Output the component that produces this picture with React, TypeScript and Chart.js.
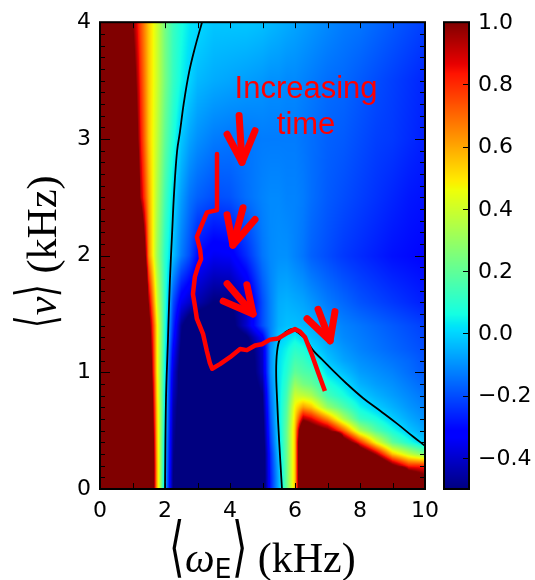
import { useEffect, useRef } from 'react';
import { Chart, registerables } from 'chart.js';

Chart.register(...registerables);

// ---------- data ----------
// grid of the colour map (x: <omega_E> in kHz, y: <nu> in kHz)
const gridX = [0, 0.5, 1.0, 1.25, 1.5, 1.75, 2.0, 2.25, 2.5, 2.75, 3.0, 3.5, 4.0, 4.5, 5.0, 5.25, 5.5, 5.75, 6.0, 6.25, 6.5, 7.0, 7.5, 8.0, 8.5, 9.0, 9.5, 10];
const gridY = [0, 0.1, 0.2, 0.3, 0.4, 0.5, 0.6, 0.7, 0.8, 0.9, 1.0, 1.1, 1.2, 1.3, 1.4, 1.6, 2.0, 2.5, 3.0, 3.5, 4.0];
// one row per gridY value, one entry per gridX value
const fieldRows = [
  [3, 3, 3, 3, 1.7, 0.6, -0.05, -0.5, -0.58, -0.6, -0.6, -0.6, -0.6, -0.6, -0.6, -0.27, -0.05, 0.22, 0.55, 1.6, 3, 3, 3, 3, 3, 3, 3, 3],
  [3, 3, 3, 3, 1.7, 0.6, -0.05, -0.5, -0.58, -0.6, -0.6, -0.6, -0.6, -0.6, -0.6, -0.27, -0.05, 0.22, 0.55, 1.6, 3, 3, 3, 3, 3, 3, 1.3, 1.05],
  [3, 3, 3, 3, 1.7, 0.6, -0.04, -0.49, -0.58, -0.6, -0.6, -0.6, -0.6, -0.6, -0.6, -0.26, -0.04, 0.22, 0.55, 1.6, 3, 3, 3, 3, 1.45, 1.05, 0.8, 0.8],
  [3, 3, 3, 3, 1.65, 0.59, -0.03, -0.48, -0.58, -0.6, -0.6, -0.6, -0.6, -0.6, -0.6, -0.25, -0.02, 0.22, 0.55, 1.6, 3, 3, 3, 1.3, 0.95, 0.55, 0.38, 0.25],
  [3, 3, 3, 3, 1.6, 0.58, -0.02, -0.47, -0.57, -0.6, -0.6, -0.6, -0.6, -0.6, -0.58, -0.22, 0.0, 0.22, 0.55, 1.6, 3, 3, 1.19, 0.8, 0.45, 0.2, 0.08, -0.03],
  [3, 3, 3, 3, 1.55, 0.57, 0.0, -0.46, -0.57, -0.6, -0.6, -0.6, -0.6, -0.6, -0.56, -0.2, 0.01, 0.22, 0.55, 1.4, 1.18, 1.04, 0.72, 0.35, 0.18, 0.07, -0.02, -0.07],
  [3, 3, 3, 3, 1.5, 0.56, 0.01, -0.45, -0.56, -0.6, -0.6, -0.6, -0.6, -0.6, -0.54, -0.18, 0.02, 0.2, 0.52, 0.95, 0.88, 0.65, 0.35, 0.13, 0.07, -0.01, -0.06, -0.1],
  [3, 3, 3, 3, 1.45, 0.55, 0.02, -0.44, -0.56, -0.6, -0.6, -0.6, -0.6, -0.6, -0.52, -0.16, 0.02, 0.18, 0.48, 0.62, 0.56, 0.3, 0.17, 0.05, -0.01, -0.05, -0.09, -0.12],
  [3, 3, 3, 3, 1.4, 0.53, 0.02, -0.42, -0.55, -0.6, -0.6, -0.6, -0.6, -0.6, -0.5, -0.14, 0.02, 0.15, 0.4, 0.38, 0.34, 0.15, 0.07, -0.01, -0.05, -0.08, -0.11, -0.14],
  [3, 3, 3, 3, 1.35, 0.52, 0.03, -0.4, -0.55, -0.6, -0.6, -0.6, -0.6, -0.6, -0.46, -0.12, 0.02, 0.12, 0.3, 0.24, 0.21, 0.08, 0.02, -0.05, -0.08, -0.1, -0.13, -0.16],
  [3, 3, 3, 3, 1.3, 0.5, 0.04, -0.38, -0.56, -0.6, -0.6, -0.6, -0.6, -0.6, -0.42, -0.1, 0.02, 0.09, 0.2, 0.17, 0.15, 0.02, -0.03, -0.08, -0.1, -0.12, -0.15, -0.18],
  [3, 3, 3, 3, 1.25, 0.5, 0.05, -0.35, -0.54, -0.6, -0.6, -0.6, -0.6, -0.6, -0.41, -0.1, 0.02, 0.07, 0.15, 0.13, 0.08, -0.02, -0.07, -0.1, -0.12, -0.14, -0.16, -0.19],
  [3, 3, 3, 3, 1.2, 0.5, 0.06, -0.32, -0.52, -0.6, -0.6, -0.6, -0.6, -0.58, -0.4, -0.1, 0.01, 0.05, 0.1, 0.08, 0.01, -0.05, -0.09, -0.12, -0.14, -0.16, -0.18, -0.2],
  [3, 3, 3, 3, 1.15, 0.5, 0.07, -0.28, -0.5, -0.59, -0.6, -0.6, -0.6, -0.52, -0.33, -0.12, -0.02, 0.01, 0.04, 0.0, -0.03, -0.07, -0.11, -0.13, -0.15, -0.17, -0.19, -0.21],
  [3, 3, 3, 3, 1.1, 0.5, 0.08, -0.25, -0.48, -0.58, -0.6, -0.6, -0.55, -0.4, -0.2, -0.12, -0.05, -0.03, -0.03, -0.04, -0.05, -0.09, -0.12, -0.14, -0.16, -0.18, -0.2, -0.22],
  [3, 3, 3, 2.0, 0.95, 0.42, 0.1, -0.2, -0.35, -0.4, -0.44, -0.5, -0.5, -0.42, -0.2, -0.12, -0.06, -0.05, -0.06, -0.07, -0.09, -0.13, -0.16, -0.19, -0.21, -0.23, -0.25, -0.27],
  [3, 3, 3, 1.5, 0.65, 0.32, 0.1, -0.03, -0.13, -0.2, -0.3, -0.35, -0.34, -0.25, -0.14, -0.11, -0.1, -0.1, -0.12, -0.14, -0.17, -0.2, -0.23, -0.25, -0.27, -0.29, -0.3, -0.31],
  [3, 3, 1.6, 0.95, 0.6, 0.35, 0.15, 0.01, -0.08, -0.14, -0.17, -0.2, -0.19, -0.15, -0.12, -0.11, -0.11, -0.12, -0.12, -0.13, -0.15, -0.18, -0.2, -0.22, -0.24, -0.26, -0.28, -0.29],
  [3, 3, 1.3, 0.85, 0.55, 0.38, 0.2, 0.08, -0.02, -0.07, -0.1, -0.13, -0.14, -0.14, -0.13, -0.13, -0.13, -0.13, -0.13, -0.14, -0.15, -0.17, -0.18, -0.2, -0.22, -0.23, -0.25, -0.27],
  [3, 3, 1.15, 0.8, 0.55, 0.4, 0.24, 0.12, 0.05, 0.0, -0.04, -0.06, -0.07, -0.08, -0.09, -0.1, -0.1, -0.11, -0.11, -0.12, -0.13, -0.15, -0.16, -0.18, -0.2, -0.22, -0.24, -0.26],
  [3, 3, 1.0, 0.75, 0.55, 0.4, 0.24, 0.13, 0.07, 0.03, 0.01, -0.02, -0.02, -0.02, -0.03, -0.04, -0.05, -0.06, -0.07, -0.08, -0.09, -0.11, -0.13, -0.14, -0.16, -0.18, -0.2, -0.22],
];

// zero contours (black lines)
const contourLeft = [
  [3.14, 4.0], [2.92, 3.78], [2.74, 3.57], [2.58, 3.31], [2.46, 3.06], [2.37, 2.89],
  [2.28, 2.54], [2.22, 2.2], [2.15, 1.78], [2.09, 1.27], [2.03, 0.76], [2.0, 0.0],
];
const contourRight = [
  [5.6, 0.0], [5.51, 0.42], [5.45, 0.76], [5.42, 1.01], [5.45, 1.18], [5.54, 1.29],
  [5.69, 1.34], [5.91, 1.37], [6.09, 1.34], [6.31, 1.29], [6.55, 1.19], [6.83, 1.11],
  [7.08, 1.04], [7.6, 0.9], [8.09, 0.78], [8.62, 0.67], [9.14, 0.56], [9.63, 0.45], [10.0, 0.37],
];

// red trajectory
const trajectory = [
  [3.6, 2.87], [3.6, 2.39], [3.29, 2.37], [3.14, 2.27], [2.98, 2.16], [3.08, 2.05],
  [3.11, 1.97], [3.02, 1.91], [2.92, 1.82], [2.86, 1.67], [2.92, 1.57], [2.98, 1.46],
  [3.17, 1.33], [3.29, 1.18], [3.38, 1.08], [3.45, 1.03], [3.69, 1.07], [4.0, 1.13],
  [4.31, 1.2], [4.52, 1.19], [4.77, 1.23], [4.98, 1.24], [5.23, 1.28], [5.48, 1.29],
  [5.6, 1.31], [5.78, 1.34], [6.0, 1.37], [6.15, 1.35], [6.31, 1.3], [6.52, 1.15],
  [6.71, 1.0], [6.92, 0.84],
];

// red arrows: tail, tip and the two ends of the head
const arrowTails = [[4.28, 3.2], [4.4, 2.41], [3.91, 1.76], [6.71, 1.54]];
const arrowTips = [[4.37, 2.8], [4.09, 2.09], [4.71, 1.5], [7.08, 1.27]];
const arrowWingsA = [[3.91, 3.04], [3.91, 2.35], [3.79, 1.61], [6.37, 1.46]];
const arrowWingsB = [[4.77, 3.07], [4.77, 2.31], [4.52, 1.75], [7.23, 1.52]];

const annotationText = ['Increasing', 'time'];
const annotationAnchor = [6.34, 3.35, 3.04]; // x, baseline y of line 1, line 2

const xTickLabels = [0, 2, 4, 6, 8, 10];
const yTickLabels = [0, 1, 2, 3, 4];
const colorbarTicks = [-0.4, -0.2, 0.0, 0.2, 0.4, 0.6, 0.8, 1.0];
const colorRange = [-0.5, 1.0];

// ---------- colour map (matplotlib jet) ----------
const JET_R = [[0, 0], [0.35, 0], [0.66, 1], [0.89, 1], [1, 0.5]];
const JET_G = [[0, 0], [0.125, 0], [0.375, 1], [0.64, 1], [0.91, 0], [1, 0]];
const JET_B = [[0, 0.5], [0.11, 1], [0.34, 1], [0.65, 0], [1, 0]];
function seg(p: number[][], t: number) {
  for (let i = 1; i < p.length; i++) {
    if (t <= p[i][0]) {
      const [a0, b0] = p[i - 1];
      const [a1, b1] = p[i];
      return b0 + ((b1 - b0) * (t - a0)) / (a1 - a0);
    }
  }
  return p[p.length - 1][1];
}
function jet(v: number) {
  let t = (v - colorRange[0]) / (colorRange[1] - colorRange[0]);
  t = Math.max(0, Math.min(1, t));
  return [Math.round(seg(JET_R, t) * 255), Math.round(seg(JET_G, t) * 255), Math.round(seg(JET_B, t) * 255)];
}
function locate(arr: number[], v: number): [number, number] {
  let i = 0;
  while (i < arr.length - 2 && v > arr[i + 1]) i++;
  const f = (v - arr[i]) / (arr[i + 1] - arr[i]);
  return [i, Math.max(0, Math.min(1, f))];
}
function sampleField(xv: number, yv: number) {
  const [i, fx] = locate(gridX, xv);
  const [j, fy] = locate(gridY, yv);
  const r0 = fieldRows[j];
  const r1 = fieldRows[j + 1];
  const a = r0[i] + (r0[i + 1] - r0[i]) * fx;
  const b = r1[i] + (r1[i + 1] - r1[i]) * fx;
  return a + (b - a) * fy;
}

const heatmapPlugin = {
  id: 'heatmap',
  beforeDatasetsDraw(chart: any) {
    const { ctx, chartArea: a, scales } = chart;
    const xs = scales.x;
    const ys = scales.y;
    const w = Math.round(a.right - a.left);
    const h = Math.round(a.bottom - a.top);
    const off = document.createElement('canvas');
    off.width = w;
    off.height = h;
    const octx = off.getContext('2d')!;
    const img = octx.createImageData(w, h);
    const xv = new Array(w);
    for (let i = 0; i < w; i++) xv[i] = xs.getValueForPixel(a.left + i + 0.5);
    for (let j = 0; j < h; j++) {
      const yv = ys.getValueForPixel(a.top + j + 0.5);
      for (let i = 0; i < w; i++) {
        const c = jet(sampleField(xv[i], yv));
        const k = (j * w + i) * 4;
        img.data[k] = c[0];
        img.data[k + 1] = c[1];
        img.data[k + 2] = c[2];
        img.data[k + 3] = 255;
      }
    }
    octx.putImageData(img, 0, 0);
    ctx.save();
    ctx.drawImage(off, a.left, a.top);
    ctx.restore();
  },
};

const framePlugin = {
  id: 'frame',
  afterDatasetsDraw(chart: any) {
    const { ctx, chartArea: a, scales } = chart;
    const xs = scales.x;
    const ys = scales.y;
    ctx.save();
    ctx.strokeStyle = '#000';
    ctx.lineWidth = 1;
    ctx.beginPath();
    for (let k = 1; k < 10; k++) {
      const px = Math.round(xs.getPixelForValue(k)) + 0.5;
      ctx.moveTo(px, a.bottom);
      ctx.lineTo(px, a.bottom - 6);
      ctx.moveTo(px, a.top);
      ctx.lineTo(px, a.top + 6);
    }
    for (let k = 1; k < 40; k++) {
      const py = Math.round(ys.getPixelForValue(k / 10)) + 0.5;
      const len = k % 10 === 0 ? 10 : 5;
      ctx.moveTo(a.left, py);
      ctx.lineTo(a.left + len, py);
      ctx.moveTo(a.right, py);
      ctx.lineTo(a.right - len, py);
    }
    ctx.stroke();
    ctx.lineWidth = 2;
    ctx.strokeRect(a.left, a.top, a.right - a.left, a.bottom - a.top);

    // annotation text
    ctx.fillStyle = '#ff0000';
    ctx.font = '31px "Liberation Sans", Arial, sans-serif';
    ctx.textAlign = 'center';
    ctx.textBaseline = 'alphabetic';
    const ax = xs.getPixelForValue(annotationAnchor[0]);
    ctx.fillText(annotationText[0], ax, ys.getPixelForValue(annotationAnchor[1]));
    ctx.fillText(annotationText[1], ax, ys.getPixelForValue(annotationAnchor[2]));
    ctx.restore();
  },
};

type Piece = { t: string; f: string; dy?: number; sx?: number };
function pieceWidth(ctx: CanvasRenderingContext2D, p: Piece) {
  ctx.font = p.f;
  return ctx.measureText(p.t).width * (p.sx || 1);
}
function drawPieces(ctx: CanvasRenderingContext2D, pieces: Piece[], cx: number) {
  const total = pieces.reduce((s, p) => s + pieceWidth(ctx, p), 0);
  let x = cx - total / 2;
  for (const p of pieces) {
    const w = pieceWidth(ctx, p);
    ctx.save();
    ctx.font = p.f;
    ctx.translate(x, p.dy || 0);
    ctx.scale(p.sx || 1, 1);
    ctx.fillText(p.t, 0, 0);
    ctx.restore();
    x += w;
  }
}

const colorbarPlugin = {
  id: 'colorbar',
  afterDraw(chart: any) {
    const { ctx, chartArea: a } = chart;
    const cb = chart.scales.cb;
    const ok = cb && cb.bottom - cb.top > 10;
    const top = ok ? cb.top : a.top;
    const bottom = ok ? cb.bottom : a.bottom;
    const pix = (v: number) => (ok ? cb.getPixelForValue(v) : bottom - ((v - colorRange[0]) / (colorRange[1] - colorRange[0])) * (bottom - top));
    const val = (py: number) => (ok ? cb.getValueForPixel(py) : colorRange[0] + ((bottom - py) / (bottom - top)) * (colorRange[1] - colorRange[0]));
    const x0 = a.right + 19;
    const x1 = x0 + 25;
    ctx.save();
    for (let py = Math.floor(top); py < bottom; py++) {
      const c = jet(val(py + 0.5));
      ctx.fillStyle = `rgb(${c[0]},${c[1]},${c[2]})`;
      ctx.fillRect(x0, py, x1 - x0, 1);
    }
    ctx.strokeStyle = '#000';
    ctx.lineWidth = 1;
    ctx.beginPath();
    for (const v of colorbarTicks) {
      const py = Math.round(pix(v)) + 0.5;
      ctx.moveTo(x1, py);
      ctx.lineTo(x1 - 6, py);
    }
    ctx.stroke();
    ctx.lineWidth = 2;
    ctx.strokeRect(x0, top, x1 - x0, bottom - top);
    ctx.fillStyle = '#000';
    ctx.font = '22px "DejaVu Sans"';
    ctx.textAlign = 'left';
    ctx.textBaseline = 'middle';
    for (const v of colorbarTicks) {
      const s = v.toFixed(1).replace('-', '\u2212');
      ctx.fillText(s, x1 + 9, pix(v) + 1);
    }

    // axis titles
    const bracketX = '200 66px "DejaVu Sans"';
    const serif = '42px "Liberation Serif", "DejaVu Serif", serif';
    const serifIt = 'italic 42px "Liberation Serif", "DejaVu Serif", serif';
    ctx.textAlign = 'left';
    ctx.textBaseline = 'alphabetic';
    ctx.save();
    ctx.translate(0, 572);
    drawPieces(
      ctx,
      [
        { t: '\u27E8', f: bracketX, sx: 0.6, dy: -3 },
        { t: '\u03C9', f: serifIt },
        { t: 'E', f: '27px "DejaVu Sans"', dy: 6 },
        { t: '\u27E9', f: bracketX, sx: 0.6, dy: -3 },
        { t: ' (kHz)', f: serif },
      ],
      (a.left + a.right) / 2
    );
    ctx.restore();

    ctx.save();
    ctx.translate(56, 0);
    ctx.rotate(-Math.PI / 2);
    const bracketY = '200 54px "DejaVu Sans"';
    drawPieces(
      ctx,
      [
        { t: '\u27E8', f: bracketY, sx: 0.6, dy: -2 },
        { t: '\u03BD', f: serifIt },
        { t: '\u27E9', f: bracketY, sx: 0.6, dy: -2 },
        { t: ' (kHz)', f: serif },
      ],
      -(a.top + a.bottom) / 2 + 4
    );
    ctx.restore();
    ctx.restore();
  },
};

const pts = (arr: number[][]) => arr.map(([x, y]) => ({ x, y }));

export default function App() {
  const ref = useRef<HTMLCanvasElement | null>(null);
  useEffect(() => {
    document.body.style.margin = '0';
    const canvas = ref.current!;
    const red = '#ff0000';
    const datasets: any[] = [];
    for (let i = 0; i < arrowTips.length; i++) {
      datasets.push({
        data: pts([arrowTails[i], arrowTips[i]]),
        borderColor: red,
        borderWidth: 7,
        borderCapStyle: 'round',
      });
      datasets.push({
        data: pts([arrowWingsA[i], arrowTips[i], arrowWingsB[i]]),
        borderColor: red,
        borderWidth: 7,
        borderCapStyle: 'round',
        borderJoinStyle: 'round',
      });
    }
    datasets.push({ data: pts(trajectory), borderColor: red, borderWidth: 4.5, borderJoinStyle: 'round', borderCapStyle: 'butt' });
    datasets.push({ data: pts(contourLeft), borderColor: '#000', borderWidth: 1.8, tension: 0.4 });
    datasets.push({ data: pts(contourRight), borderColor: '#000', borderWidth: 1.8, tension: 0.4 });
    for (const d of datasets) {
      d.showLine = true;
      d.pointRadius = 0;
      d.fill = false;
    }
    const tickFont = { family: 'DejaVu Sans', size: 22 };
    const chart = new Chart(canvas, {
      type: 'scatter',
      data: { datasets },
      options: {
        animation: false,
        responsive: false,
        events: [],
        layout: { padding: { left: 0, right: 110, top: 19, bottom: 0 } },
        plugins: { legend: { display: false }, tooltip: { enabled: false } },
        scales: {
          x: {
            type: 'linear',
            min: 0,
            max: 10,
            afterBuildTicks: (s: any) => {
              s.ticks = xTickLabels.map((v) => ({ value: v }));
            },
            afterFit: (s: any) => {
              s.height = 91;
            },
            grid: { display: false, drawTicks: false },
            border: { display: false },
            ticks: { font: tickFont, color: '#000', padding: 9, maxRotation: 0, autoSkip: false },
          },
          y: {
            type: 'linear',
            min: 0,
            max: 4,
            afterBuildTicks: (s: any) => {
              s.ticks = yTickLabels.map((v) => ({ value: v }));
            },
            afterFit: (s: any) => {
              s.width = 100;
            },
            grid: { display: false, drawTicks: false },
            border: { display: false },
            ticks: { font: tickFont, color: '#000', padding: 9, autoSkip: false },
          },
          cb: {
            type: 'linear',
            display: false,
            position: 'right',
            min: colorRange[0],
            max: colorRange[1],
          },
        },
      } as any,
      plugins: [heatmapPlugin, framePlugin, colorbarPlugin],
    });
    return () => chart.destroy();
  }, []);
  return (
    <div style={{ width: 535, height: 580 }}>
      <canvas ref={ref} width={535} height={580} style={{ display: 'block' }} />
    </div>
  );
}
